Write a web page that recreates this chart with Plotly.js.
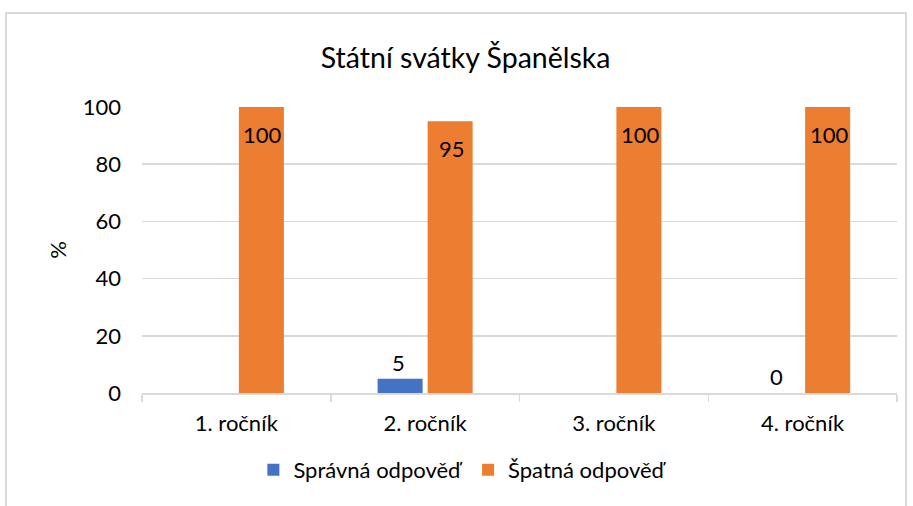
<!DOCTYPE html>
<html>
<head>
<meta charset="utf-8">
<script src="https://cdn.plot.ly/plotly-3.0.1.min.js"></script>
<style>
  html, body { margin: 0; padding: 0; background: #fff; overflow: hidden; }
  #frame { position: absolute; left: 5px; top: 12px; width: 902px; height: 600px;
           border: 2px solid #d9d9d9; box-sizing: border-box; }
  #chart { position: absolute; left: 0; top: 0; width: 913px; height: 506px; }
</style>
</head>
<body>
<div id="frame"></div>
<div id="chart"></div>
<script>
const categories = ['1. ročník', '2. ročník', '3. ročník', '4. ročník'];
const correctName = 'Správná odpověď';
const wrongName = 'Špatná odpověď';
const correctValues = [null, 5, null, 0];
const wrongValues = [100, 95, 100, 100];
const yTicks = [0, 20, 40, 60, 80, 100];

const FONT = 'Lato, "Liberation Sans", Arial, sans-serif';
const BLUE = '#4472C4';
const ORANGE = '#ED7D31';

const traces = [
  { type: 'bar', name: correctName, x: categories, y: correctValues,
    marker: { color: BLUE }, hoverinfo: 'skip' },
  { type: 'bar', name: wrongName, x: categories, y: wrongValues,
    marker: { color: ORANGE }, hoverinfo: 'skip' }
];

const annotations = [];
categories.forEach((c, i) => {
  if (correctValues[i] !== null) {
    annotations.push({ x: c, y: correctValues[i], xref: 'x', yref: 'y',
      text: String(correctValues[i]), showarrow: false, yanchor: 'bottom',
      xshift: -26.5, yshift: 1, font: { family: FONT, size: 22, color: '#000' } });
  }
  if (wrongValues[i] !== null) {
    annotations.push({ x: c, y: wrongValues[i], xref: 'x', yref: 'y',
      text: String(wrongValues[i]), showarrow: false, yanchor: 'top',
      xshift: 26.5, yshift: -12, font: { family: FONT, size: 22, color: '#000' } });
  }
});

const layout = {
  width: 913, height: 506,
  margin: { l: 141.5, r: 16, t: 107, b: 113 },
  paper_bgcolor: 'rgba(0,0,0,0)', plot_bgcolor: 'rgba(0,0,0,0)',
  font: { family: FONT, size: 22, color: '#000' },
  title: { text: 'Státní svátky Španělska', xref: 'container', x: 0.51, xanchor: 'center',
           yref: 'container', y: 1 - 58 / 506, yanchor: 'middle',
           font: { family: FONT, size: 28.5, color: '#000' } },
  barmode: 'group', bargap: 0.47, bargroupgap: 0.1,
  xaxis: { type: 'category', showgrid: false, showline: true, linecolor: '#d9d9d9', linewidth: 1.5,
           ticks: 'outside', tickson: 'boundaries', ticklen: 7, tickcolor: '#d9d9d9', tickwidth: 1.5,
           ticklabelstandoff: 10, tickfont: { family: FONT, size: 22, color: '#000' }, fixedrange: true },
  yaxis: { range: [0, 100], tickvals: yTicks, showgrid: true, gridcolor: '#d9d9d9', gridwidth: 1.5,
           zeroline: false, showline: false, ticks: '', ticklabelstandoff: 20,
           tickfont: { family: FONT, size: 22, color: '#000' },
           title: { text: '%', standoff: 10, font: { family: FONT, size: 22, color: '#000' } },
           fixedrange: true },
  showlegend: true,
  legend: { orientation: 'h', x: 0.425, xanchor: 'center', y: -0.269, yanchor: 'middle',
            font: { family: FONT, size: 22, color: '#000' }, traceorder: 'normal' },
  annotations: annotations
};

Plotly.newPlot('chart', traces, layout, { displayModeBar: false, staticPlot: true });
</script>
</body>
</html>
